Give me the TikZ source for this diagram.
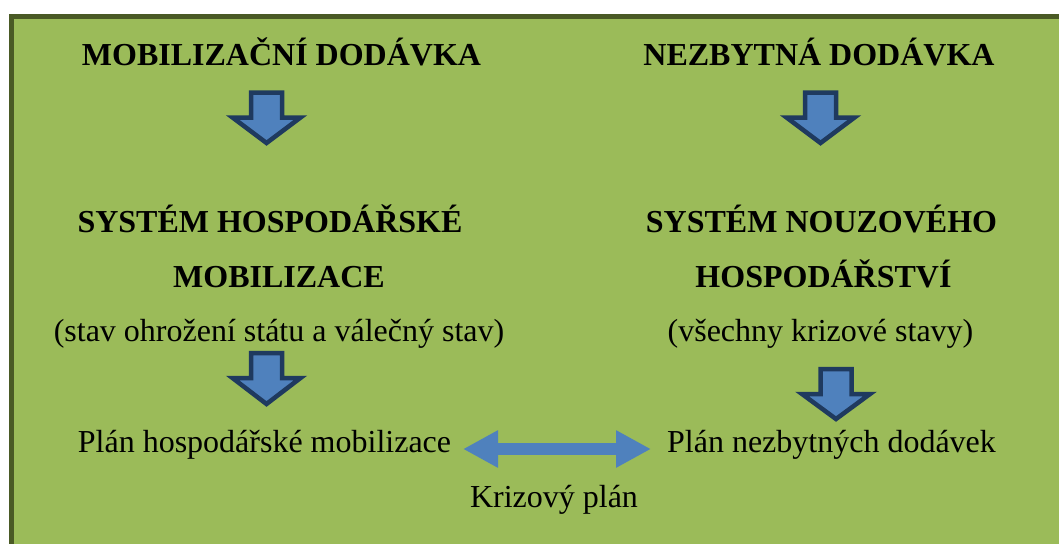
\documentclass[tikz,border=0pt]{standalone}
\usepackage{fontspec}
\setmainfont{Liberation Serif}
\usetikzlibrary{arrows.meta}
\definecolor{bggreen}{HTML}{9BBB59}
\definecolor{bgborder}{HTML}{4A5A25}
\definecolor{arrowblue}{HTML}{4F81BD}
\definecolor{arrowline}{HTML}{1F3A5F}
\tikzset{
  txt/.style={anchor=base, inner sep=0pt, font=\fontsize{32}{38}\selectfont},
  btxt/.style={txt, font=\fontsize{32}{38}\selectfont\bfseries},
  blockarrow/.style={fill=arrowblue, draw=arrowline, line width=4.5pt, line join=miter},
  dblarrow/.style={draw=arrowblue, line width=12pt, {Triangle[length=35pt,width=35pt]}-{Triangle[length=35pt,width=35pt]}}
}
% #1 centre x, #2 top y, #3 tip y
\newcommand\blockdown[3]{%
  \path[blockarrow] (#1-15.5,#2) -- (#1+15.5,#2) -- (#1+15.5,#2+25) -- (#1+34,#2+25)
    -- (#1,#3) -- (#1-34,#2+25) -- (#1-15.5,#2+25) -- cycle;}
\begin{document}
\begin{tikzpicture}[x=1pt,y=-1pt]
\useasboundingbox (0,0) rectangle (1059,543);
\clip (0,0) rectangle (1059,543);
\fill[white] (0,0) rectangle (1059,543);
\path[fill=bggreen, draw=bgborder, line width=5.5pt] (11.5,16.5) rectangle (1090,570);

\node[btxt] (md) at (281.5,66) {MOBILIZAČNÍ DODÁVKA};
\node[btxt] (nd) at (819,66) {NEZBYTNÁ DODÁVKA};
\node[btxt] (shm1) at (270,232) {SYSTÉM HOSPODÁŘSKÉ};
\node[btxt] (shm2) at (279,287) {MOBILIZACE};
\node[txt] (shm3) at (279,341) {(stav ohrožení státu a válečný stav)};
\node[btxt] (snh1) at (821.5,232) {SYSTÉM NOUZOVÉHO};
\node[btxt] (snh2) at (823.5,287) {HOSPODÁŘSTVÍ};
\node[txt] (snh3) at (820.5,341) {(všechny krizové stavy)};
\node[txt] (php) at (264.5,452) {Plán hospodářské mobilizace};
\node[txt] (pnd) at (831.5,452) {Plán nezbytných dodávek};
\node[txt] (kp) at (554,507) {Krizový plán};

\blockdown{266.5}{92.5}{143}
\blockdown{820.5}{92.5}{143}
\blockdown{266.5}{353}{404}
\blockdown{836}{369}{419}

\coordinate (dl) at (463,449);
\coordinate (dr) at (651,449);
\draw[dblarrow] (dl) -- (dr);
\end{tikzpicture}
\end{document}
